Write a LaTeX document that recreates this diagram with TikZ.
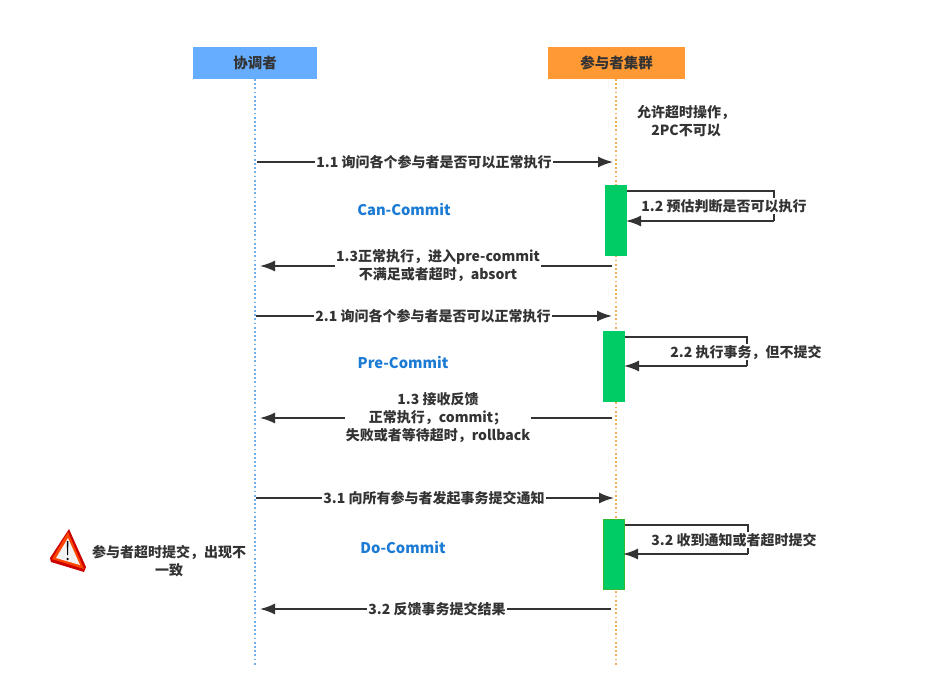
\documentclass[tikz,border=0pt]{standalone}
\usepackage{fontspec}
\setmainfont{Noto Sans CJK SC}
\usetikzlibrary{arrows.meta}
\definecolor{ink}{HTML}{333333}
\definecolor{blueh}{HTML}{66ADFF}
\definecolor{orangeh}{HTML}{FF9933}
\definecolor{barg}{HTML}{00CC66}
\definecolor{lifeb}{HTML}{6FB0E8}
\definecolor{lifeo}{HTML}{F5A95A}
\definecolor{phase}{HTML}{1A7AD4}
\tikzset{
  headbox/.style={minimum height=32pt,inner sep=0pt,text=ink,font=\fontsize{14.5}{16}\selectfont\bfseries},
  bar/.style={fill=barg,draw=none,inner sep=0pt,minimum width=22pt,minimum height=71pt},
  msg/.style={draw=ink,line width=1.6pt,-{Latex[length=15pt,width=11pt]}},
  plain/.style={draw=ink,line width=1.6pt},
  lbl/.style={fill=white,inner sep=1pt,text=ink,align=center,font=\fontsize{14}{18}\selectfont\bfseries},
  bare/.style={inner sep=1pt,text=ink,align=center,font=\fontsize{14}{18}\selectfont\bfseries},
  phaselbl/.style={inner sep=0pt,text=phase,font=\fontsize{14.7}{16}\selectfont\bfseries},
  life/.style={line width=1.8pt,dash pattern=on 1.8pt off 2.4pt}
}
\begin{document}
\begin{tikzpicture}[x=1pt,y=-1pt]
\useasboundingbox (0,0) rectangle (952,698);
\fill[white] (0,0) rectangle (952,698);
% headers
\node[headbox,fill=blueh,minimum width=124pt] (coord) at (255,63) {协调者};
\node[headbox,fill=orangeh,minimum width=137pt] (part) at (616.5,63) {参与者集群};
% lifelines
\coordinate (coordEnd) at (255,665);
\coordinate (partEnd) at (616,665);
\draw[life,draw=lifeb] (255,79) -- (coordEnd);
\draw[life,draw=lifeo] (616,79) -- (partEnd);
% bars
\node[bar] (bar1) at (616,220.5) {};
\node[bar] (bar2) at (614,366.5) {};
\node[bar,draw=green!65!black!80,line width=1pt,minimum width=21pt,minimum height=70pt] (bar3) at (614,554.5) {};
% coordinates for messages
\coordinate (a1s) at (257,162); \coordinate (a1e) at (613,162);
\coordinate (a3s) at (612,266); \coordinate (a3e) at (260,266);
\coordinate (b1s) at (256,316); \coordinate (b1e) at (612,316);
\coordinate (b3s) at (612,418); \coordinate (b3e) at (260,418);
\coordinate (c1s) at (256,498); \coordinate (c1e) at (614,498);
\coordinate (c3s) at (611,609); \coordinate (c3e) at (260,609);
\draw[msg] (a1s) -- (a1e);
\draw[msg] (a3s) -- (a3e);
\draw[msg] (b1s) -- (b1e);
\draw[msg] (b3s) -- (b3e);
\draw[msg] (c1s) -- (c1e);
\draw[msg] (c3s) -- (c3e);
% self loops
\coordinate (l1a) at (627,191); \coordinate (l1b) at (774,191); \coordinate (l1c) at (774,221); \coordinate (l1d) at (626,221);
\draw[plain] (l1a) -- (l1b) -- (l1c);
\draw[msg] (l1c) -- (l1d);
\coordinate (l2a) at (625,337); \coordinate (l2b) at (747,337); \coordinate (l2c) at (747,366); \coordinate (l2d) at (624,366);
\draw[plain] (l2a) -- (l2b) -- (l2c);
\draw[msg] (l2c) -- (l2d);
\coordinate (l3a) at (625,525); \coordinate (l3b) at (748,525); \coordinate (l3c) at (748,554); \coordinate (l3d) at (623,554);
\draw[plain] (l3a) -- (l3b) -- (l3c);
\draw[msg] (l3c) -- (l3d);
% labels
\node[lbl] (t11) at (434,162) {1.1 询问各个参与者是否可以正常执行};
\node[lbl] (t12) at (724,206) {1.2 预估判断是否可以执行};
\node[lbl] (t13) at (438,266) {1.3正常执行，进入pre-commit\\不满足或者超时，absort};
\node[lbl] (t21) at (433,316) {2.1 询问各个参与者是否可以正常执行};
\node[lbl] (t22) at (746,352) {2.2 执行事务，但不提交};
\node[lbl,minimum width=186pt] (t23) at (438,418) {1.3 接收反馈\\正常执行，commit；\\失败或者等待超时，rollback};
\node[lbl] (t31) at (434,498) {3.1 向所有参与者发起事务提交通知};
\node[lbl] (t32) at (734,540) {3.2 收到通知或者超时提交};
\node[lbl] (t33) at (437,609) {3.2 反馈事务提交结果};
\node[bare] (note1) at (686,121) {允许超时操作，\\2PC不可以};
\node[bare] (note2) at (169,561) {参与者超时提交，出现不\\一致};
\node[phaselbl] (ph1) at (404,209) {Can-Commit};
\node[phaselbl] (ph2) at (403,362) {Pre-Commit};
\node[phaselbl] (ph3) at (403,547) {Do-Commit};
% warning icon
\fill[red!80!black,line join=round] (69,529) -- (86,567) -- (84,572) -- (51,562) -- (50,558) -- cycle;
\fill[orange!55!red] (68,532) -- (84,569) -- (52,559) -- cycle;
\fill[gray!10] (68,538) -- (80,565) -- (56,558) -- cycle;
\fill[black] (66.8,541) -- (68.4,541) -- (68,555) -- (67.2,555) -- cycle;
\fill[black] (67.6,559) circle (1.3pt);
\end{tikzpicture}
\end{document}
